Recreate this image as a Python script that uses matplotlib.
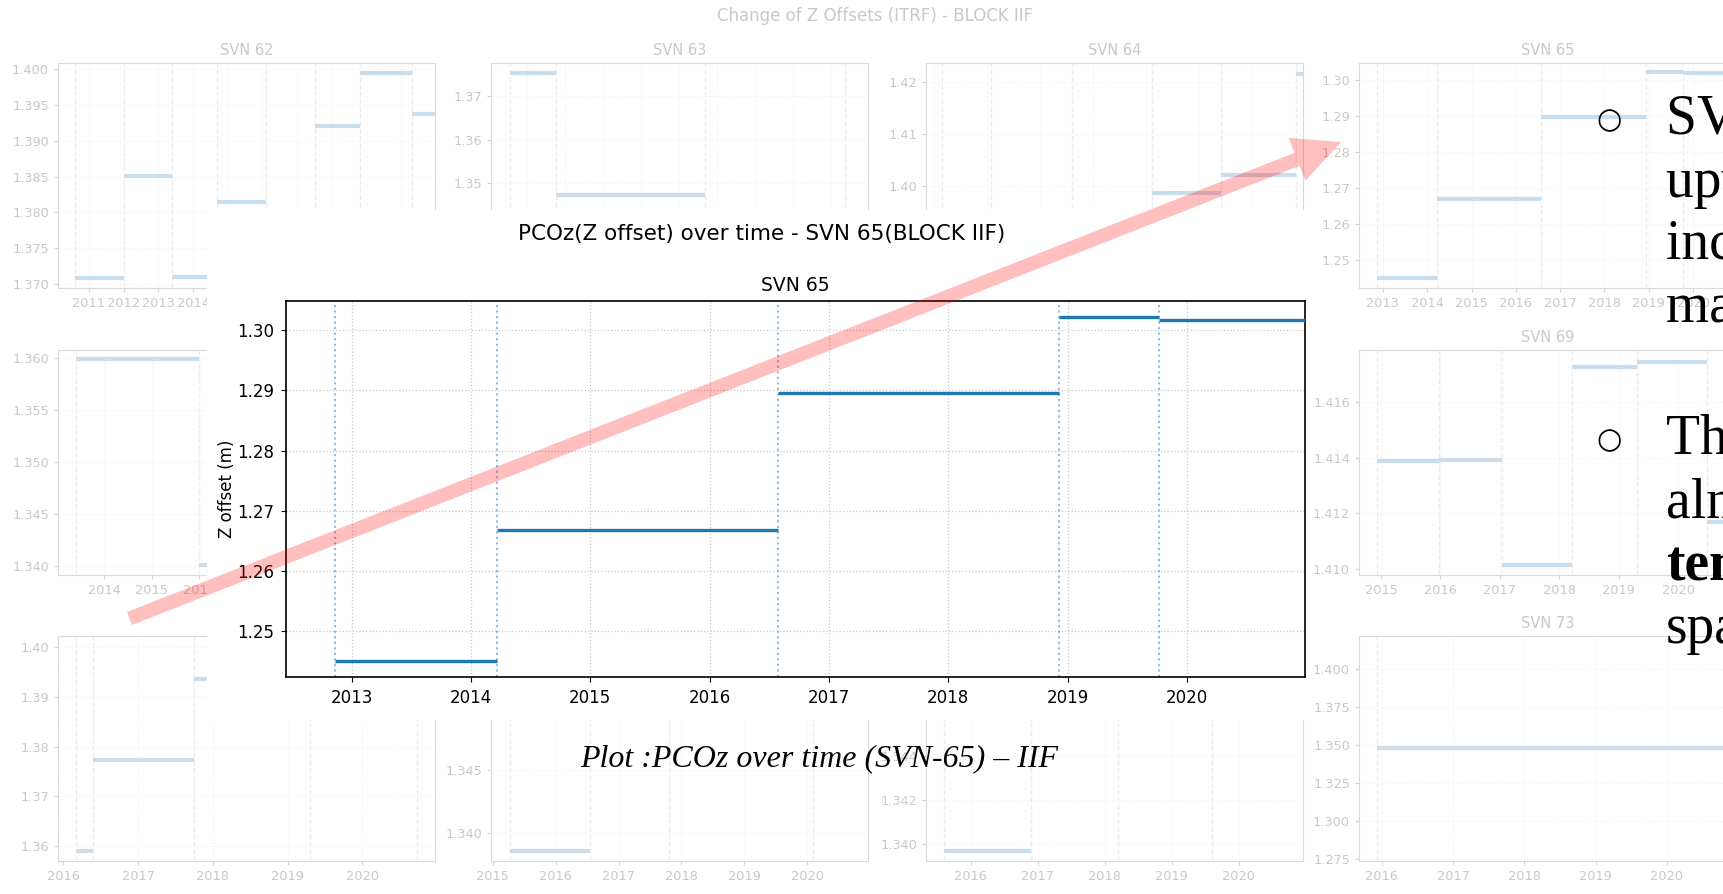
import matplotlib
matplotlib.use('Agg')
import matplotlib.pyplot as plt
from matplotlib.ticker import MultipleLocator, ScalarFormatter
from matplotlib.patches import Rectangle, FancyArrowPatch

# ---- data: PCO z offsets (m), each segment starts at a year and holds until the next ----
END = 2021.0

svn62_start = [2010.6, 2012.0, 2013.4, 2014.7, 2016.1, 2017.5, 2018.8, 2020.3]
svn62_val = [1.3709, 1.3851, 1.3710, 1.3815, 1.3780, 1.3921, 1.3994, 1.3937]

svn63_start = [2011.55, 2012.77, 2016.67, 2020.37]
svn63_val = [1.3753, 1.3472, 1.3320, 1.3285]

svn64_start = [2014.15, 2015.07, 2016.61, 2018.11, 2019.42, 2020.84]
svn64_val = [1.3860, 1.3825, 1.3900, 1.3987, 1.4021, 1.4215]

svn65_start = [2012.86, 2014.22, 2016.57, 2018.93, 2019.77]
svn65_val = [1.2450, 1.2668, 1.2896, 1.3022, 1.3018]

svn66_start = [2013.4, 2016.0]
svn66_val = [1.3599, 1.3401]

svn69_start = [2014.93, 2015.98, 2017.03, 2018.21, 2019.31, 2020.49]
svn69_val = [1.41387, 1.41391, 1.41014, 1.41727, 1.41746, 1.41170]

svn70_start = [2016.17, 2016.40, 2017.75, 2019.3, 2020.73]
svn70_val = [1.3590, 1.3773, 1.3936, 1.3990, 1.3960]

svn71_start = [2015.27, 2016.54, 2017.8, 2020.1]
svn71_val = [1.33857, 1.3525, 1.3548, 1.3512]

svn72_start = [2015.6, 2016.9, 2018.2, 2019.6]
svn72_val = [1.33968, 1.3470, 1.3490, 1.3478]

svn73_start = [2015.93]
svn73_val = [1.3480]

W, H = 1724, 894
fig = plt.figure(figsize=(W / 100, H / 100), dpi=100)

FADE_TXT = '#c8c8c8'
FADE_LINE = '#cadded'


def px_axes(left, top, width, height):
    return fig.add_axes([left / W, 1 - (top + height) / H, width / W, height / H])


def faded_panel(col, row, title, starts, vals, xlim, ylim, ystep):
    lefts = [58, 491, 926, 1359]
    tops = [63, 350, 636]
    ax = px_axes(lefts[col], tops[row], 377, 225)
    ax.set_zorder(0)
    ends = starts[1:] + [END]
    ax.hlines(vals, starts, ends, colors=FADE_LINE, lw=3)
    for s in starts:
        ax.axvline(s, color='#ececec', ls='--', lw=1, zorder=0)
    ax.set_xlim(*xlim)
    ax.set_ylim(*ylim)
    ax.xaxis.set_major_locator(MultipleLocator(1))
    ax.yaxis.set_major_locator(MultipleLocator(ystep))
    ax.yaxis.set_major_formatter(ScalarFormatter(useOffset=False))
    ax.xaxis.set_major_formatter(ScalarFormatter(useOffset=False))
    ax.grid(True, color='#f3f3f3', ls=':', lw=0.8)
    ax.tick_params(labelsize=9.3, colors='#d4d4d4', labelcolor=FADE_TXT, length=3)
    for sp in ax.spines.values():
        sp.set_color('#dadada')
    ax.set_title(title, fontsize=10.5, color=FADE_TXT, pad=6)
    return ax


faded_panel(0, 0, 'SVN 62', svn62_start, svn62_val, (2010.11, 2020.97), (1.36944, 1.40084), 0.005)
faded_panel(1, 0, 'SVN 63', svn63_start, svn63_val, (2011.05, 2020.97), (1.3259, 1.3776), 0.01)
faded_panel(2, 0, 'SVN 64', svn64_start, svn64_val, (2013.84, 2020.97), (1.3804, 1.4237), 0.01)
faded_panel(3, 0, 'SVN 65', svn65_start, svn65_val, (2012.46, 2020.97), (1.2422, 1.3047), 0.01)
faded_panel(0, 1, 'SVN 66', svn66_start, svn66_val, (2013.02, 2020.97), (1.3391, 1.3608), 0.005)
faded_panel(3, 1, 'SVN 69', svn69_start, svn69_val, (2014.63, 2020.97), (1.40978, 1.41788), 0.002)
faded_panel(0, 2, 'SVN 70', svn70_start, svn70_val, (2015.93, 2020.97), (1.357, 1.4022), 0.01)
faded_panel(1, 2, 'SVN 71', svn71_start, svn71_val, (2014.97, 2020.97), (1.33778, 1.35563), 0.005)
faded_panel(2, 2, 'SVN 72', svn72_start, svn72_val, (2015.33, 2020.96), (1.33923, 1.34945), 0.002)
faded_panel(3, 2, 'SVN 73', svn73_start, svn73_val, (2015.68, 2020.97), (1.2737, 1.4217), 0.025)

fig.text(875 / W, 1 - 16 / H, 'Change of Z Offsets (ITRF) - BLOCK IIF', ha='center', va='center',
         fontsize=12, color=FADE_TXT)

# white panel holding the main chart
fig.add_artist(Rectangle((207 / W, 1 - 720 / H), (1311 - 207) / W, (720 - 210) / H,
                         transform=fig.transFigure, facecolor='white', edgecolor='none', zorder=1))

# ---- main chart ----
ax = px_axes(286, 301, 1305 - 286, 677 - 301)
ax.set_zorder(2)
ends = svn65_start[1:] + [END]
ax.hlines(svn65_val, svn65_start, ends, colors='#1f77b4', lw=2.4, zorder=3)
for s in svn65_start:
    ax.axvline(s, color='#1f77b4', ls=':', lw=1.5, alpha=0.5, zorder=2)
ax.set_xlim(2012.45, 2020.99)
ax.set_ylim(1.2423, 1.3049)
ax.xaxis.set_major_locator(MultipleLocator(1))
ax.yaxis.set_major_locator(MultipleLocator(0.01))
ax.xaxis.set_major_formatter(ScalarFormatter(useOffset=False))
ax.yaxis.set_major_formatter(ScalarFormatter(useOffset=False))
ax.grid(True, color='#c8c8c8', ls=':', lw=0.9)
ax.tick_params(labelsize=12, pad=5)
for sp in ax.spines.values():
    sp.set_linewidth(1.2)
ax.set_ylabel('Z offset (m)', fontsize=12, labelpad=1)
ax.set_title('SVN 65', fontsize=13.5, pad=7)

fig.text(762 / W, 1 - 234 / H, 'PCOz(Z offset) over time - SVN 65(BLOCK IIF)', ha='center', va='center',
         fontsize=15.5, zorder=3)

# caption
fig.text(819 / W, 1 - 759 / H, 'Plot :PCOz over time (SVN-65) – IIF', ha='center', va='center',
         fontsize=23, family='Liberation Serif', style='italic', zorder=3)

# bullet notes on the right (run past the slide edge)
serif = 'Liberation Serif'
fig.text(1609 / W, 1 - 120 / H, '○', ha='center', va='center', fontsize=21, zorder=3)
fig.text(1609 / W, 1 - 440 / H, '○', ha='center', va='center', fontsize=21, zorder=3)
lines1 = ['SVN 65 shows a clear', 'upward step trend,', 'increasing in', 'magnitude over time.']
lines2 = ['The offsets stay', 'almost constant in', 'temporal', 'span.']
for i, t in enumerate(lines1):
    fig.text(1666 / W, 1 - (134 + 62.7 * i) / H, t, ha='left', va='baseline',
             fontsize=40, family=serif, zorder=3)
for i, t in enumerate(lines2):
    fig.text(1666 / W, 1 - (454 + 63 * i) / H, t, ha='left', va='baseline',
             fontsize=40, family=serif, fontweight='bold' if i == 2 else 'normal', zorder=3)

# highlight arrow
fig.add_artist(FancyArrowPatch((129.5 / W, 1 - 618.5 / H), (1341 / W, 1 - 142 / H),
                               transform=fig.transFigure,
                               arrowstyle='simple,head_width=33,head_length=34,tail_width=10',
                               mutation_scale=1, shrinkA=0, shrinkB=0,
                               color='red', alpha=0.25, lw=0, zorder=5))

fig.savefig('out.png', dpi=100)
